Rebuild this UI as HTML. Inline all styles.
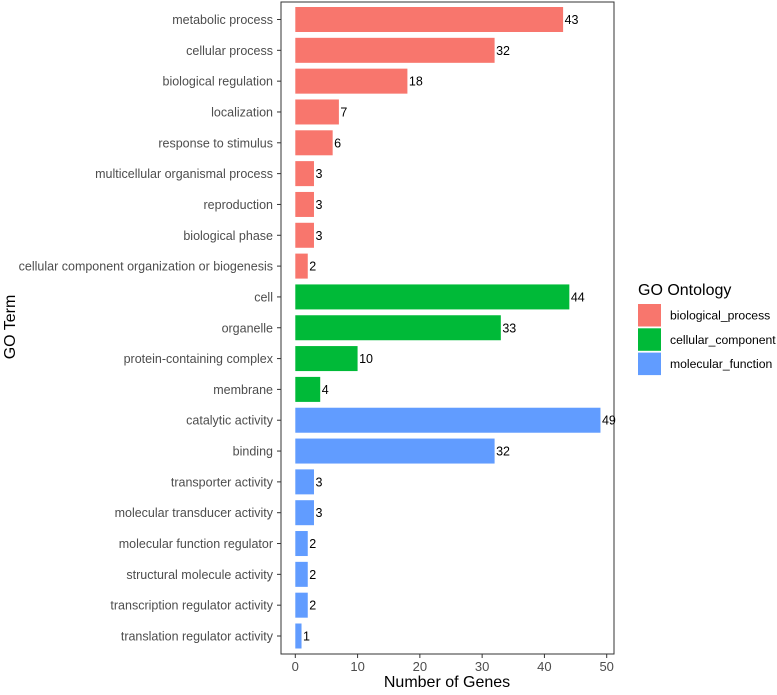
<!DOCTYPE html>
<html><head><meta charset="utf-8"><style>
body{margin:0;background:#fff;}
svg text{font-family:"Liberation Sans",Arial,sans-serif;}
</style></head><body>
<svg id="chart" width="777" height="690" xmlns="http://www.w3.org/2000/svg"></svg>
<script>
const categories=["metabolic process","cellular process","biological regulation","localization","response to stimulus","multicellular organismal process","reproduction","biological phase","cellular component organization or biogenesis","cell","organelle","protein-containing complex","membrane","catalytic activity","binding","transporter activity","molecular transducer activity","molecular function regulator","structural molecule activity","transcription regulator activity","translation regulator activity"];
const values=[43,32,18,7,6,3,3,3,2,44,33,10,4,49,32,3,3,2,2,2,1];
const groups=["biological_process","biological_process","biological_process","biological_process","biological_process","biological_process","biological_process","biological_process","biological_process","cellular_component","cellular_component","cellular_component","cellular_component","molecular_function","molecular_function","molecular_function","molecular_function","molecular_function","molecular_function","molecular_function","molecular_function"];
const groupNames=["biological_process","cellular_component","molecular_function"];
const groupColors=["#F8766D","#00BA38","#619CFF"];
const xTicks=[0,10,20,30,40,50];

const NS="http://www.w3.org/2000/svg";
const svg=document.getElementById('chart');
function mk(tag,attrs,parent){const e=document.createElementNS(NS,tag);for(const k in attrs)e.setAttribute(k,attrs[k]);(parent||svg).appendChild(e);return e;}
const L=281,R=614,T=2,B=654;
const x=v=>295.3+v*(606.7-295.3)/50;
const y=i=>19.5+i*(636-19.5)/(categories.length-1);
const bh=25;

const panel=mk('rect',{x:L,y:T,width:R-L,height:B-T,fill:'#fff',stroke:'#333','stroke-width':1});



categories.forEach((c,i)=>{
  const col=groupColors[groupNames.indexOf(groups[i])];
  const r=mk('rect',{x:x(0),y:y(i)-bh/2,width:x(values[i])-x(0),height:bh,fill:col});
  
  
  const vt=mk('text',{x:x(values[i])+1.5,y:y(i)+4.5,'font-size':12.5,fill:'#000'});
  vt.textContent=values[i];
  
  
  const tk=mk('line',{x1:L-4,x2:L,y1:y(i),y2:y(i),stroke:'#333'});
  
  
  const lt=mk('text',{x:L-8,y:y(i)+4.5,'font-size':12.5,fill:'#4d4d4d','text-anchor':'end'});
  lt.textContent=c;
  
  
});
xTicks.forEach(t=>{
  const tk=mk('line',{x1:x(t),x2:x(t),y1:B,y2:B+4,stroke:'#333'});
  
  
  const tt=mk('text',{x:x(t),y:B+17,'font-size':13,fill:'#4d4d4d','text-anchor':'middle'});
  tt.textContent=t;
  
  
});
const xt=mk('text',{x:447,y:687,'font-size':16,fill:'#000','text-anchor':'middle'});
xt.textContent='Number of Genes';


const yt=mk('text',{x:15,y:327,'font-size':16,fill:'#000','text-anchor':'middle',transform:'rotate(-90 15 327)'});
yt.textContent='GO Term';



const lt=mk('text',{x:638,y:295,'font-size':16,fill:'#000'});
lt.textContent='GO Ontology';


groupNames.forEach((g,i)=>{
  const k=mk('rect',{x:638,y:304+i*24.3,width:23,height:22.5,fill:groupColors[i]});
  
  
  const t=mk('text',{x:670,y:319.5+i*24.3,'font-size':12.2,fill:'#000'});
  t.textContent=g;
  
  
});
</script>
</body></html>
